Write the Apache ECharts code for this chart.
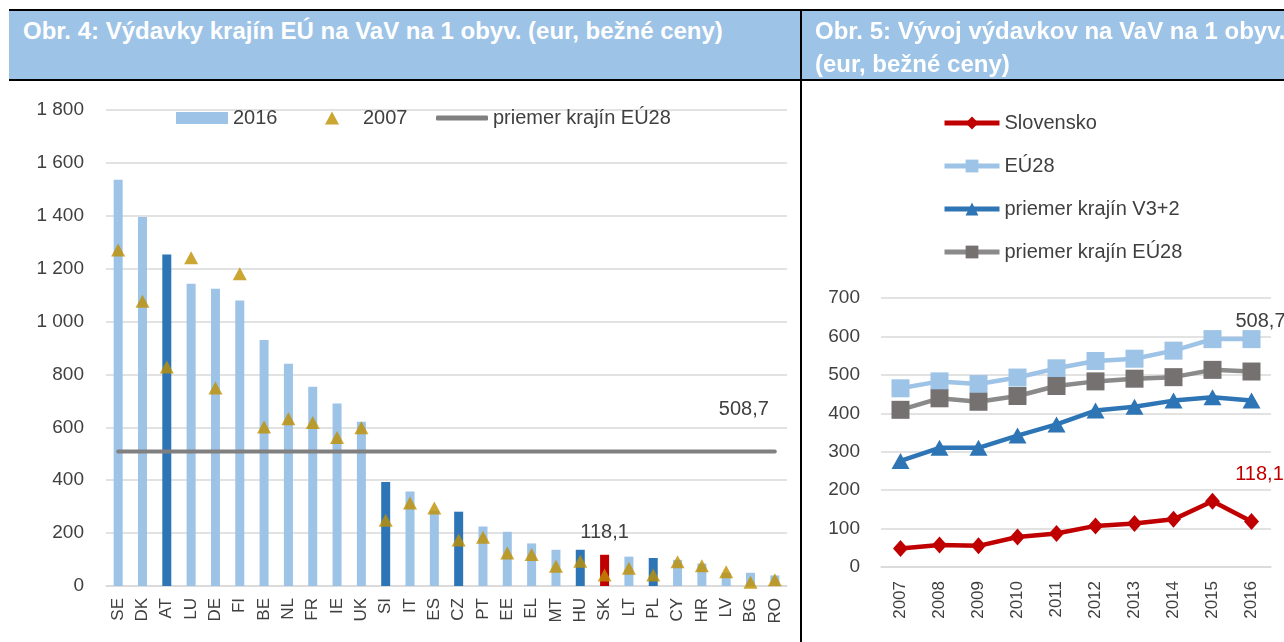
<!DOCTYPE html>
<html>
<head>
<meta charset="utf-8">
<script src="https://cdn.jsdelivr.net/npm/echarts@6/dist/echarts.min.js"></script>
<style>
body { margin: 0; width: 1284px; height: 642px; overflow: hidden; background: #fff; position: relative; font-family: 'Liberation Sans', Arial, sans-serif; }
#chart { position: absolute; left: 0; top: 0; width: 1284px; height: 642px; }
.head { position: absolute; top: 11px; height: 68px; background: #9DC3E6; color: #fff; font-weight: bold; font-size: 24px; line-height: 33px; box-sizing: border-box; padding-top: 3px; white-space: nowrap; overflow: hidden; }
#h4 { left: 9px; width: 791px; padding-left: 14px; }
#h5 { left: 802px; width: 482px; padding-left: 13px; }
.ln { position: absolute; background: #000; }
</style>
</head>
<body>
<div id="chart"></div>
<div class="head" id="h4">Obr. 4: Výdavky krajín EÚ na VaV na 1 obyv. (eur, bežné ceny)</div>
<div class="head" id="h5">Obr. 5: Vývoj výdavkov na VaV na 1 obyv.<br>(eur, bežné ceny)</div>
<div class="ln" style="left:9px;top:9px;width:1275px;height:2px"></div>
<div class="ln" style="left:9px;top:79px;width:1275px;height:2px"></div>
<div class="ln" style="left:800px;top:9px;width:2px;height:633px"></div>
<script>
// Obr. 4 - vydavky na VaV na 1 obyv. podla krajin
const countries = ['SE', 'DK', 'AT', 'LU', 'DE', 'FI', 'BE', 'NL', 'FR', 'IE', 'UK', 'SI', 'IT', 'ES',
  'CZ', 'PT', 'EE', 'EL', 'MT', 'HU', 'SK', 'LT', 'PL', 'CY', 'HR', 'LV', 'BG', 'RO']
const spend2016 = [1536, 1395, 1254, 1143, 1124, 1080, 930, 840, 753, 690, 621, 393, 357, 285,
  281, 225, 205, 161, 137, 137, 118.1, 111, 106, 99, 85, 50, 50, 40]
const spend2007 = [1271, 1077, 828, 1241, 749, 1181, 601, 632, 618, 562, 598, 249, 314, 295,
  174, 184, 125, 119, 75, 94, 42, 67, 42, 92, 77, 54, 14, 24]
const euAvg2016 = 508.7

// Obr. 5 - vyvoj v case
const years = ['2007', '2008', '2009', '2010', '2011', '2012', '2013', '2014', '2015', '2016']
const slovensko = [48, 57, 55, 78, 87, 107, 113, 124, 171, 118.1]
const eu28 = [465, 483, 476, 493, 517, 536, 542, 563, 593, 593]
const v3plus2 = [276, 310, 310, 342, 371, 407, 417, 433, 442, 433]
const avgEu28 = [409, 439, 430, 445, 471, 483, 490, 494, 513, 508.7]

const darkBars = ['AT', 'SI', 'CZ', 'HU', 'PL']
const font = 'Liberation Sans'
const txt = '#404040'
const comma = p => String(p.value).replace('.', ',')

function barColor(c) {
  if (c === 'SK') return '#C00000'
  if (darkBars.indexOf(c) >= 0) return '#2E75B6'
  return '#9DC3E6'
}

const myChart = echarts.init(document.getElementById('chart'))
const gridLine = { lineStyle: { color: '#D9D9D9', width: 1.5 } }
const legendText = { fontSize: 20, color: txt, fontFamily: font }

myChart.setOption({
  animation: false,
  textStyle: { fontFamily: font, color: txt },
  grid: [
    { left: 106, top: 110, width: 681, height: 476 },
    { left: 881, top: 298, width: 390, height: 269 }
  ],
  legend: [
    {
      data: [{ name: '2016', icon: 'rect' }],
      left: 176, top: 108, padding: 0, itemWidth: 52, itemHeight: 12,
      textStyle: legendText
    },
    {
      data: [{ name: '2007', icon: 'triangle' }],
      left: 325, top: 108, padding: 0, itemWidth: 14, itemHeight: 13,
      textStyle: Object.assign({ padding: [0, 0, 0, 19] }, legendText)
    },
    {
      data: [{ name: 'priemer krajín EÚ28', icon: 'roundRect' }],
      left: 436, top: 108, padding: 0, itemWidth: 52, itemHeight: 5, itemGap: 0,
      textStyle: legendText
    },
    {
      data: ['Slovensko', 'EÚ28', 'priemer krajín V3+2', 'priemer krajín EÚ28 '],
      orient: 'vertical', left: 942, top: 113, padding: 0, itemWidth: 55, itemHeight: 16, itemGap: 23,
      lineStyle: { width: 5 },
      textStyle: legendText
    }
  ],
  xAxis: [
    {
      type: 'category', gridIndex: 0, data: countries,
      axisTick: { show: false },
      axisLine: gridLine,
      axisLabel: { rotate: 90, fontSize: 17, color: txt, margin: 12, fontFamily: font }
    },
    {
      type: 'category', gridIndex: 1, data: years,
      axisTick: { show: false },
      axisLine: gridLine,
      axisLabel: { rotate: 90, fontSize: 17, color: txt, margin: 14, fontFamily: font }
    }
  ],
  yAxis: [
    {
      type: 'value', gridIndex: 0, min: 0, max: 1800, interval: 200,
      splitLine: gridLine,
      axisLabel: {
        fontSize: 19, color: txt, margin: 22, fontFamily: font,
        formatter: v => String(v).replace(/\B(?=(\d{3})+$)/g, ' ')
      }
    },
    {
      type: 'value', gridIndex: 1, min: 0, max: 700, interval: 100,
      splitLine: gridLine,
      axisLabel: { fontSize: 19, color: txt, margin: 21, fontFamily: font }
    }
  ],
  series: [
    {
      name: '2016', type: 'bar', xAxisIndex: 0, yAxisIndex: 0, barWidth: 9,
      color: '#9DC3E6',
      data: spend2016.map((v, i) => {
        const item = { value: v, itemStyle: { color: barColor(countries[i]) } }
        if (countries[i] === 'SK') {
          item.label = { show: true, position: 'top', distance: 12, fontSize: 20, color: txt, formatter: comma }
        }
        return item
      })
    },
    {
      name: 'priemer krajín EÚ28', type: 'line', xAxisIndex: 0, yAxisIndex: 0,
      symbol: 'none', color: '#808080',
      lineStyle: { width: 4, color: '#808080', cap: 'round' },
      endLabel: { show: true, offset: [-64, -42], fontSize: 20, color: txt, formatter: comma },
      data: countries.map(() => euAvg2016),
      z: 3
    },
    {
      name: '2007', type: 'scatter', xAxisIndex: 0, yAxisIndex: 0,
      symbol: 'triangle', symbolSize: [14, 13], color: '#BF9000',
      data: spend2007, z: 4
    },
    {
      name: 'Slovensko', type: 'line', xAxisIndex: 1, yAxisIndex: 1,
      symbol: 'diamond', symbolSize: [15, 17], color: '#C00000',
      lineStyle: { width: 4.5, color: '#C00000' },
      data: slovensko.map((v, i) => i === slovensko.length - 1
        ? { value: v, label: { show: true, position: 'top', offset: [8, -24], fontSize: 20, color: '#C00000', formatter: comma } }
        : v)
    },
    {
      name: 'EÚ28', type: 'line', xAxisIndex: 1, yAxisIndex: 1,
      symbol: 'rect', symbolSize: 18, color: '#9DC3E6',
      lineStyle: { width: 4.5, color: '#9DC3E6' },
      data: eu28
    },
    {
      name: 'priemer krajín V3+2', type: 'line', xAxisIndex: 1, yAxisIndex: 1,
      symbol: 'triangle', symbolSize: [18, 16], color: '#2E75B6',
      lineStyle: { width: 4.5, color: '#2E75B6' },
      data: v3plus2
    },
    {
      name: 'priemer krajín EÚ28 ', type: 'line', xAxisIndex: 1, yAxisIndex: 1,
      symbol: 'rect', symbolSize: 18, color: '#767171',
      lineStyle: { width: 4.5, color: '#8A8A8A' },
      data: avgEu28.map((v, i) => i === avgEu28.length - 1
        ? { value: v, label: { show: true, position: 'top', offset: [9, -26], fontSize: 20, color: txt, formatter: comma } }
        : v)
    }
  ]
})
</script>
</body>
</html>
